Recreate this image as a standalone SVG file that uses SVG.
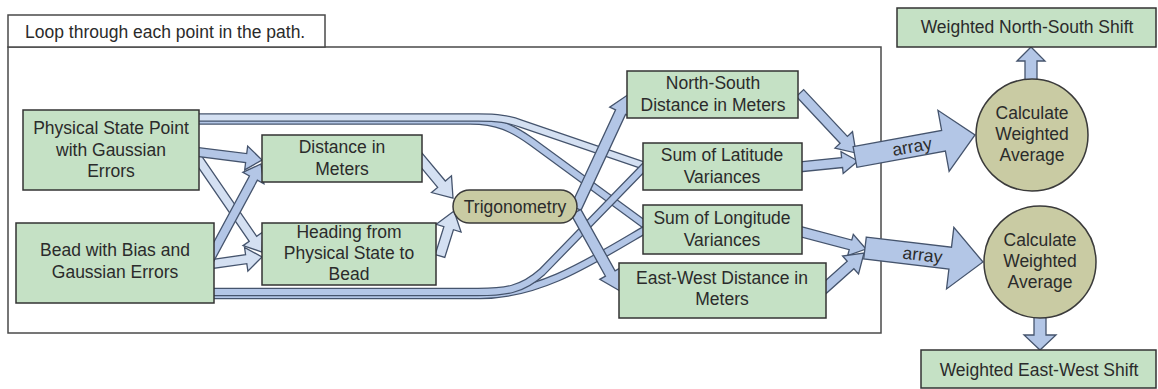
<svg xmlns="http://www.w3.org/2000/svg" width="1158" height="389" viewBox="0 0 1158 389">
  <style>
    .frame { fill: #ffffff; stroke: #4a4a4a; stroke-width: 1.5; }
    .box { fill: #c5e1c5; stroke: #333333; stroke-width: 1.5; }
    .proc { fill: #c9cba3; stroke: #3a3a3a; stroke-width: 1.5; }
    .t { font-family: "Liberation Sans", Arial, sans-serif; font-size: 17.5px; fill: #2b2b2b; text-anchor: middle; }
    .tl { font-family: "Liberation Sans", Arial, sans-serif; font-size: 17.5px; fill: #2b2b2b; }
    .am { fill: #b3c6e6; stroke: #45546d; stroke-width: 1.3; stroke-linejoin: miter; }
    .al { fill: #d4e0f2; stroke: #45546d; stroke-width: 1.3; stroke-linejoin: miter; }
    .bo { fill: none; stroke: #45546d; stroke-width: 8.5; }
    .bm { fill: none; stroke: #b3c6e6; stroke-width: 6; }
    .bl { fill: none; stroke: #d4e0f2; stroke-width: 6; }
  </style>

  <rect width="1158" height="389" fill="#ffffff"/>

  <!-- loop frame with its caption tab -->
  <g id="loop-frame">
    <rect class="frame" x="8" y="47" width="873" height="286"/>
    <rect class="frame" x="8" y="15" width="317" height="32"/>
    <text class="tl" x="25" y="38">Loop through each point in the path.</text>
  </g>

  <g id="connectors">
    <!-- variance bands from the state point (top) and the bead (bottom) -->
    <path class="bo" d="M195,120.5 H470 C498,120.5 512,128 532,142 L648,227"/>
    <path class="bm" d="M195,120.5 H470 C498,120.5 512,128 532,142 L648,227"/>
    <path class="bo" d="M195,117.5 H478 C498,117.5 508,119 522,124 L648,167"/>
    <path class="bl" d="M195,117.5 H478 C498,117.5 508,119 522,124 L648,167"/>

    <path class="bo" d="M205,295 H480 C540,295 590,262 648,228"/>
    <path class="bm" d="M205,295 H480 C540,295 590,262 648,228"/>
    <path class="bo" d="M205,292 H478 C505,292 522,290 542,272 L648,163"/>
    <path class="bm" d="M205,292 H478 C505,292 522,290 542,272 L648,163"/>

    <!-- inputs to distance / heading -->
    <polygon class="al" transform="translate(192,150) rotate(55.54)" points="0,-4.5 107.7,-4.5 107.7,-12 123.7,0 107.7,12 107.7,4.5 0,4.5"/>
    <polygon class="al" transform="translate(205,265) rotate(-7.99)" points="0,-4.5 41.6,-4.5 41.6,-12 57.6,0 41.6,12 41.6,4.5 0,4.5"/>
    <polygon class="am" transform="translate(190,151) rotate(7.13)" points="0,-4.5 56.6,-4.5 56.6,-12 72.6,0 56.6,12 56.6,4.5 0,4.5"/>
    <polygon class="am" transform="translate(205,268) rotate(-61.7)" points="0,-4.5 102.1,-4.5 102.1,-12 118.1,0 102.1,12 102.1,4.5 0,4.5"/>

    <!-- into trigonometry -->
    <polygon class="al" transform="translate(418,156) rotate(50.2)" points="0,-5 36.7,-5 36.7,-13 54.7,0 36.7,13 36.7,5 0,5"/>
    <polygon class="al" transform="translate(440,256) rotate(-72.7)" points="0,-5 29.1,-5 29.1,-13 47.1,0 29.1,13 29.1,5 0,5"/>

    <!-- out of trigonometry -->
    <polygon class="am" transform="translate(576,208) rotate(-65.06)" points="0,-5.5 105.7,-5.5 105.7,-12 125.7,0 105.7,12 105.7,5.5 0,5.5"/>
    <polygon class="am" transform="translate(576,212) rotate(60.88)" points="0,-5.5 70.4,-5.5 70.4,-12 90.4,0 70.4,12 70.4,5.5 0,5.5"/>

    <!-- collected into arrays -->
    <polygon class="am" transform="translate(800,93) rotate(46.97)" points="0,-5 64.1,-5 64.1,-12 82.1,0 64.1,12 64.1,5 0,5"/>
    <polygon class="am" transform="translate(798,167) rotate(-5.71)" points="0,-5 44.3,-5 44.3,-11 60.3,0 44.3,11 44.3,5 0,5"/>
    <polygon class="am" transform="translate(798,231) rotate(14.83)" points="0,-5 54.3,-5 54.3,-11 70.3,0 54.3,11 54.3,5 0,5"/>
    <polygon class="am" transform="translate(818,294) rotate(-41.71)" points="0,-5 43.6,-5 43.6,-12 61.6,0 43.6,12 43.6,5 0,5"/>

    <g transform="translate(855,157) rotate(-10.39)">
      <polygon class="am" points="0,-10.5 90,-10.5 90,-31 122,0 90,31 90,10.5 0,10.5"/>
      <text class="t" x="58" y="6">array</text>
    </g>
    <g transform="translate(865,248) rotate(6.77)">
      <polygon class="am" points="0,-11 85.8,-11 85.8,-31 118.8,0 85.8,31 85.8,11 0,11"/>
      <text class="t" x="58" y="6">array</text>
    </g>

    <!-- results -->
    <polygon class="am" transform="translate(1031,84) rotate(-90)" points="0,-6 23,-6 23,-14 37,0 23,14 23,6 0,6"/>
    <polygon class="am" transform="translate(1040,314) rotate(90)" points="0,-6 21,-6 21,-16 36,0 21,16 21,6 0,6"/>
  </g>

  <g id="physical-state">
    <rect class="box" x="23" y="110" width="176" height="80"/>
    <text class="t" x="111" y="134">Physical State Point<tspan x="111" dy="21.5">with Gaussian</tspan><tspan x="111" dy="21.5">Errors</tspan></text>
  </g>

  <g id="bead">
    <rect class="box" x="16" y="223" width="198" height="80"/>
    <text class="t" x="115" y="256">Bead with Bias and<tspan x="115" dy="21.5">Gaussian Errors</tspan></text>
  </g>

  <g id="distance">
    <rect class="box" x="262" y="135" width="160" height="47"/>
    <text class="t" x="342" y="153">Distance in<tspan x="342" dy="21.5">Meters</tspan></text>
  </g>

  <g id="heading">
    <rect class="box" x="262" y="223" width="174" height="62"/>
    <text class="t" x="349" y="238">Heading from<tspan x="349" dy="21">Physical State to</tspan><tspan x="349" dy="21">Bead</tspan></text>
  </g>

  <g id="trigonometry">
    <rect class="proc" x="453" y="190" width="124" height="33" rx="16.5"/>
    <text class="t" x="515" y="213">Trigonometry</text>
  </g>

  <g id="ns-distance">
    <rect class="box" x="627" y="71" width="171" height="47"/>
    <text class="t" x="713" y="89">North-South<tspan x="713" dy="21.5">Distance in Meters</tspan></text>
  </g>

  <g id="lat-variance">
    <rect class="box" x="643" y="143" width="159" height="47"/>
    <text class="t" x="722" y="161">Sum of Latitude<tspan x="722" dy="21.5">Variances</tspan></text>
  </g>

  <g id="lon-variance">
    <rect class="box" x="643" y="205" width="159" height="49"/>
    <text class="t" x="722" y="224">Sum of Longitude<tspan x="722" dy="21.5">Variances</tspan></text>
  </g>

  <g id="ew-distance">
    <rect class="box" x="619" y="263" width="207" height="55"/>
    <text class="t" x="722" y="284">East-West Distance in<tspan x="722" dy="21">Meters</tspan></text>
  </g>

  <g id="average-ns">
    <circle class="proc" cx="1032" cy="135" r="56"/>
    <text class="t" x="1032" y="119">Calculate<tspan x="1032" dy="21">Weighted</tspan><tspan x="1032" dy="21">Average</tspan></text>
  </g>

  <g id="average-ew">
    <circle class="proc" cx="1040" cy="262" r="56"/>
    <text class="t" x="1040" y="246">Calculate<tspan x="1040" dy="21">Weighted</tspan><tspan x="1040" dy="21">Average</tspan></text>
  </g>

  <g id="ns-shift">
    <rect class="box" x="897" y="8" width="259" height="39"/>
    <text class="t" x="1027" y="33">Weighted North-South Shift</text>
  </g>

  <g id="ew-shift">
    <rect class="box" x="921" y="350" width="235" height="38"/>
    <text class="t" x="1039" y="376">Weighted East-West Shift</text>
  </g>
</svg>
